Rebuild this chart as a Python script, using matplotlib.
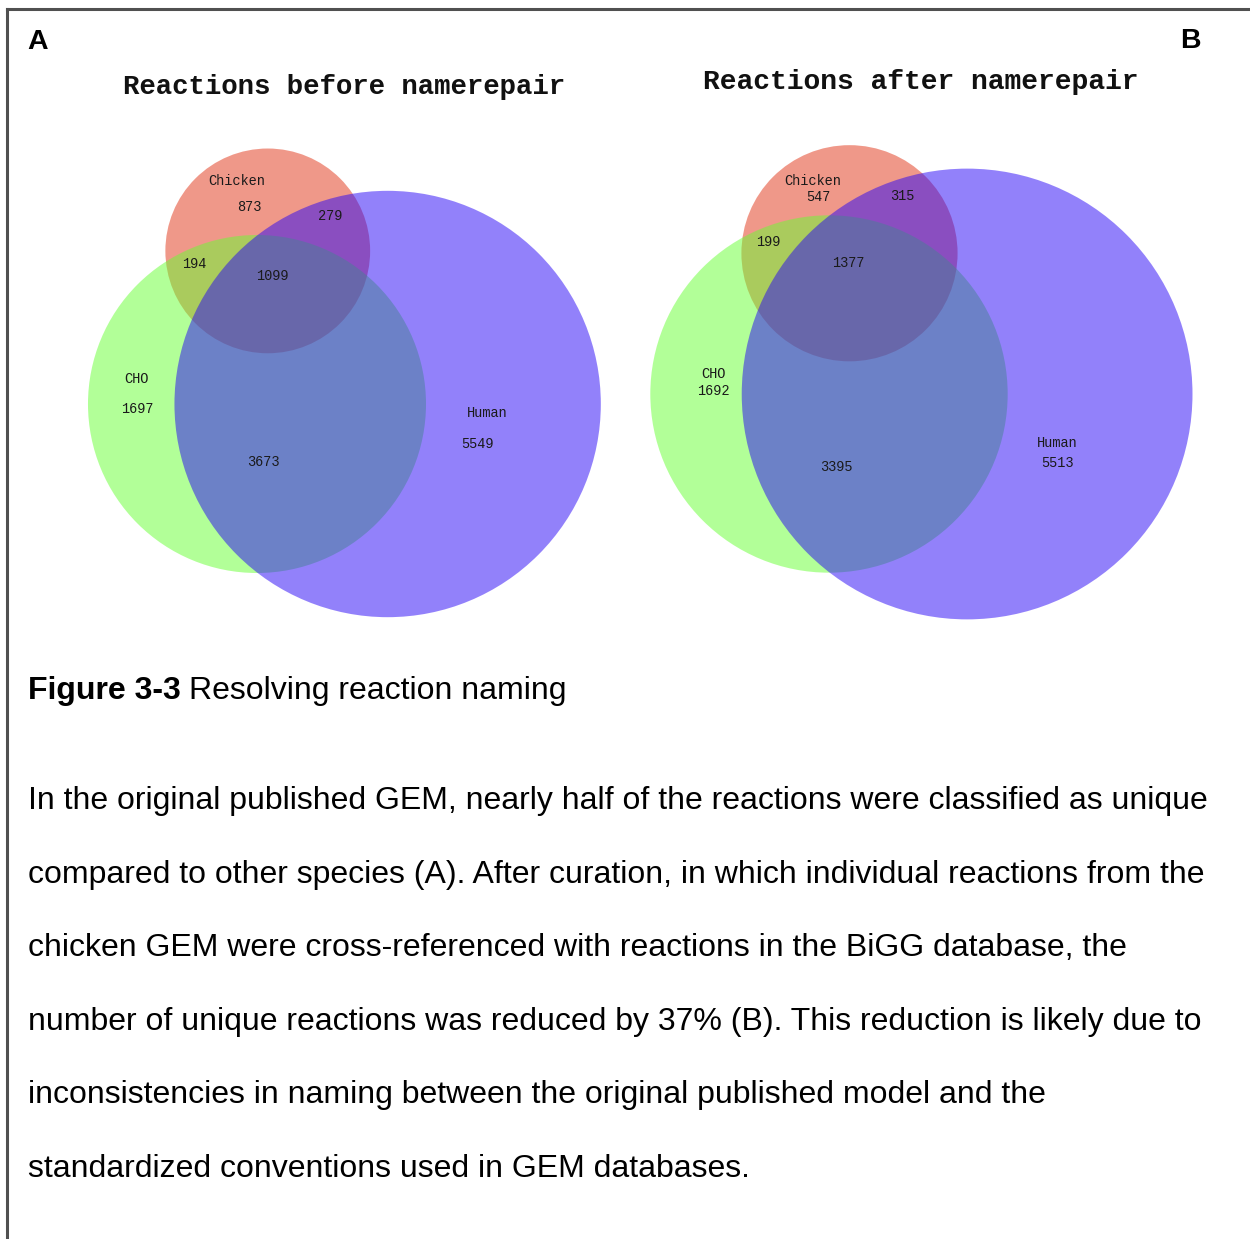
import numpy as np
import matplotlib
matplotlib.use("Agg")
import matplotlib.pyplot as plt
from matplotlib.patches import Circle
from matplotlib.lines import Line2D

W, H = 1250, 1239

# Venn region counts: chicken only, CHO only, human only,
# chicken&CHO, chicken&human, CHO&human, all three
species = ["Chicken", "CHO", "Human"]
before = [873, 1697, 5549, 194, 279, 3673, 1099]
after = [547, 1692, 5513, 199, 315, 3395, 1377]

titles = ["Reactions before namerepair", "Reactions after namerepair"]
caption_bold = "Figure 3-3"
caption_rest = "Resolving reaction naming"
body = [
    "In the original published GEM, nearly half of the reactions were classified as unique",
    "compared to other species (A). After curation, in which individual reactions from the",
    "chicken GEM were cross-referenced with reactions in the BiGG database, the",
    "number of unique reactions was reduced by 37% (B). This reduction is likely due to",
    "inconsistencies in naming between the original published model and the",
    "standardized conventions used in GEM databases.",
]

fills = ["#E13315", "#67FF33", "#2705F7"]


def set_sizes(r):
    chk = r[0] + r[3] + r[4] + r[6]
    cho = r[1] + r[3] + r[5] + r[6]
    hum = r[2] + r[4] + r[5] + r[6]
    pair = {(0, 1): r[3] + r[6], (0, 2): r[4] + r[6], (1, 2): r[5] + r[6]}
    return [chk, cho, hum], pair


def lens_area(r1, r2, d):
    if d >= r1 + r2:
        return 0.0
    if d <= abs(r1 - r2):
        return np.pi * min(r1, r2) ** 2
    a1 = np.arccos((d * d + r1 * r1 - r2 * r2) / (2 * d * r1))
    a2 = np.arccos((d * d + r2 * r2 - r1 * r1) / (2 * d * r2))
    k = np.sqrt((-d + r1 + r2) * (d + r1 - r2) * (d - r1 + r2) * (d + r1 + r2))
    return r1 * r1 * a1 + r2 * r2 * a2 - 0.5 * k


def solve_dist(r1, r2, area):
    lo, hi = abs(r1 - r2), r1 + r2
    for _ in range(80):
        mid = 0.5 * (lo + hi)
        if lens_area(r1, r2, mid) > area:
            lo = mid
        else:
            hi = mid
    return 0.5 * (lo + hi)


def venn_layout(r):
    sizes, pair = set_sizes(r)
    radii = [np.sqrt(s / np.pi) for s in sizes]
    d12 = solve_dist(radii[1], radii[2], pair[(1, 2)])
    d01 = solve_dist(radii[0], radii[1], pair[(0, 1)])
    d02 = solve_dist(radii[0], radii[2], pair[(0, 2)])
    cx = (d01 ** 2 - d02 ** 2 + d12 ** 2) / (2 * d12)
    cy = np.sqrt(max(d01 ** 2 - cx ** 2, 0))
    centers = [(cx, cy), (0.0, 0.0), (d12, 0.0)]
    return centers, radii


fig = plt.figure(figsize=(W / 100, H / 100), dpi=100)

# panel anchors (pixel position of the CHO centre) and pixels per unit
panels = [(before, 257, 404, 3.67), (after, 829, 394, 3.88)]
for counts, px, py, k in panels:
    pax = fig.add_axes([0, 0, 1, 1])
    pax.set_xlim(-px / k, (W - px) / k)
    pax.set_ylim(-(H - py) / k, py / k)
    pax.axis("off")
    centers, radii = venn_layout(counts)
    for c, r, col in zip(centers, radii, fills):
        pax.add_patch(Circle(c, r, facecolor=col, edgecolor="none", alpha=0.5))

# overlay in pixel coordinates for text and frame
ax = fig.add_axes([0, 0, 1, 1])
ax.set_xlim(0, W)
ax.set_ylim(H, 0)
ax.axis("off")

ax.add_line(Line2D([7, W], [9, 9], color="#505050", lw=2.2))
ax.add_line(Line2D([7, 7], [9, H], color="#505050", lw=2.2))

sans = "Liberation Sans"
mono = "Liberation Mono"
ax.text(27, 49, "A", fontsize=20.5, fontweight="bold", family=sans, va="baseline")
ax.text(1180, 48, "B", fontsize=20.5, fontweight="bold", family=sans, va="baseline")

ax.text(344, 94, titles[0], fontsize=19.7, fontweight="bold", family=mono,
        ha="center", va="baseline", color="#111111")
ax.text(921, 89, titles[1], fontsize=20.2, fontweight="bold", family=mono,
        ha="center", va="baseline", color="#111111")

# region labels: (text, x, y centre)
labels_a = [("Chicken", 237, 181), (str(before[0]), 249, 207), (str(before[4]), 330, 216),
            (str(before[3]), 194, 264), (str(before[6]), 272, 276),
            ("CHO", 136, 379), (str(before[1]), 137, 409),
            ("Human", 487, 413), (str(before[2]), 477, 444), (str(before[5]), 263, 462)]
labels_b = [("Chicken", 813, 181), (str(after[0]), 818, 197), (str(after[4]), 902, 196),
            (str(after[3]), 768, 242), (str(after[6]), 848, 263),
            ("CHO", 713, 374), (str(after[1]), 713, 391),
            ("Human", 1057, 443), (str(after[2]), 1057, 463), (str(after[5]), 836, 467)]
for txt, x, y in labels_a + labels_b:
    ax.text(x, y + 4, txt, fontsize=9.8, family=mono, ha="center", va="baseline",
            color="#1a1a1a")

cap = ax.text(28, 699, caption_bold, fontsize=23, fontweight="bold", family=sans,
              va="baseline")
fig.canvas.draw()
bb = cap.get_window_extent()
x_next = bb.x1 + 8
ax.text(x_next, 699, caption_rest, fontsize=23, family=sans, va="baseline")

for i, line in enumerate(body):
    ax.text(28, 809 + i * 73.6, line, fontsize=23, family=sans, va="baseline")

fig.savefig("out.png", dpi=100)
